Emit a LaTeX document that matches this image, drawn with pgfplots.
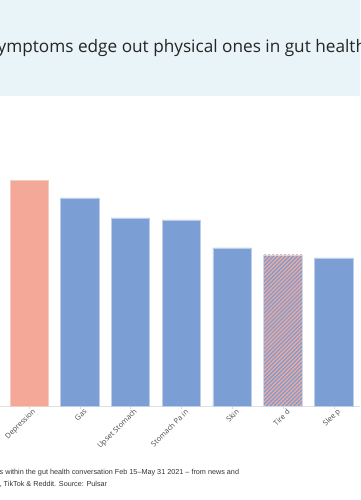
\documentclass[border=0pt]{standalone}
\usepackage{pgfplots}
\pgfplotsset{compat=1.18}
\usepackage{fontspec}
\setmainfont{Open Sans}
\newfontfamily\titlefont{Open Sans}
\newfontfamily\footfont{Liberation Sans}
\usetikzlibrary{patterns.meta}
\definecolor{salmon}{HTML}{F4A898}
\definecolor{barblue}{HTML}{7B9ED4}
\definecolor{header}{HTML}{E8F4F7}
\begin{document}
\begin{tikzpicture}[x=1pt,y=1pt]
\clip (0,0) rectangle (360,500);
\fill[white] (0,0) rectangle (360,500);
\fill[header] (0,404) rectangle (360,500);
\node[anchor=base west, inner sep=0, text=black!85, font=\titlefont\fontsize{17.2}{20}\selectfont] at (-2.5,447) {ymptoms edge out physical ones in gut health conversation};
\begin{axis}[
  at={(0,94)}, anchor=south west,
  scale only axis, width=360pt, height=300pt,
  xmin=-0.571, xmax=6.518, ymin=0, ymax=300,
  hide y axis,
  axis x line*=bottom,
  axis line style={draw=black!12, -},
  xtick={0,...,6},
  xticklabels={Depression,Gas,Upset Stomach,Stomach Pa in,Skin,Tire d,Slee p},
  tick style={draw=black!15},
  major tick length=3pt, tick align=outside,
  x tick label style={rotate=45, anchor=east, inner sep=1pt, xshift=4pt, yshift=-5pt, font=\fontsize{7.4}{8}\selectfont, text=black!70},
  ybar, bar width=38.3pt, bar shift=0pt,
  clip=false,
]
\addplot[fill=salmon, draw=salmon!60!white, line width=0.6pt] coordinates {(0,226)};
\addplot[fill=barblue, draw=barblue!50!white, line width=0.6pt] coordinates {(1,208) (2,188) (3,186) (4,158) (6,148)};
\addplot[fill=barblue, draw=barblue!40!white, line width=0.6pt, postaction={pattern={Lines[angle=45, distance=2.8pt, line width=1.3pt]}, pattern color=salmon}] coordinates {(5,151)};
\end{axis}
\node[anchor=base west, inner sep=0, text=black!80, font=\footfont\fontsize{7.25}{8}\selectfont] at (-0.5,25) {s within the gut health conversation Feb 15–May 31 2021 – from news and};
\node[anchor=base west, inner sep=0, text=black!80, font=\footfont\fontsize{7.25}{8}\selectfont] at (-0.5,13.5) {, TikTok \& Reddit. Source: Pulsar};
\end{tikzpicture}
\end{document}
